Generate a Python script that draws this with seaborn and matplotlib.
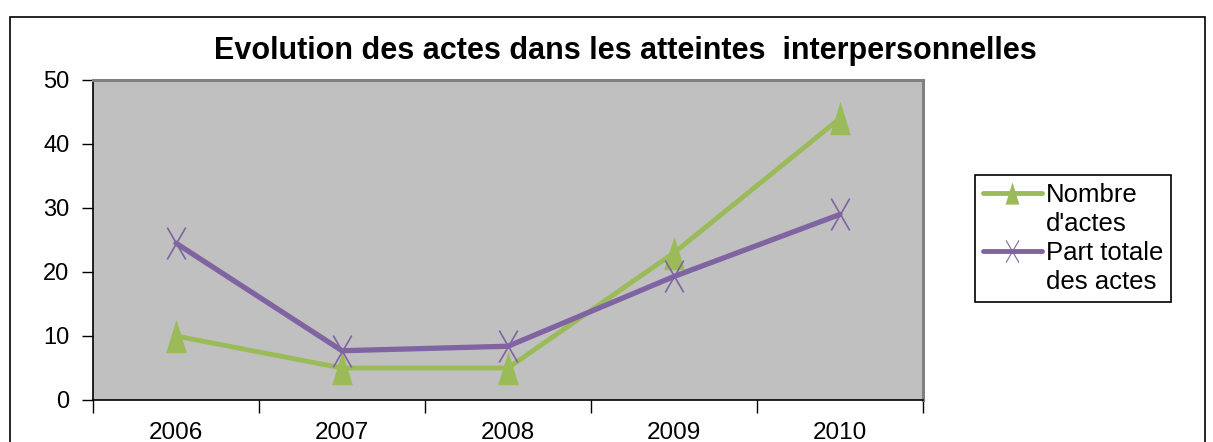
import matplotlib
matplotlib.use("Agg")
import matplotlib.pyplot as plt
import matplotlib.patches as mpatches
from matplotlib.lines import Line2D
from matplotlib.path import Path
import numpy as np
import seaborn as sns

years = ["2006", "2007", "2008", "2009", "2010"]
nombre_actes = [10, 5, 5, 23, 44]
part_totale = [24.5, 7.7, 8.4, 19.3, 29]
series_names = ["Nombre\nd'actes", "Part totale\ndes actes"]

positions = list(range(len(years)))

sns.set_theme(style="white")
plt.rcParams["font.family"] = ["Liberation Sans", "DejaVu Sans"]
plt.rcParams["text.color"] = "black"
plt.rcParams["xtick.color"] = "black"
plt.rcParams["ytick.color"] = "black"

fig = plt.figure(figsize=(12.13, 4.42), dpi=100)
ax = fig.add_axes([93 / 1213, 1 - 400 / 442, (923 - 93) / 1213, 320 / 442])
ax.set_facecolor("#c0c0c0")

green = "#9bbb59"
purple = "#8064a2"

# tall, narrow markers like the original spreadsheet export
tall_triangle = Path([(-0.62, -1), (0.62, -1), (0, 1), (-0.62, -1)],
                     [Path.MOVETO, Path.LINETO, Path.LINETO, Path.CLOSEPOLY])
tall_cross = Path([(-0.58, -1), (0.58, 1), (-0.58, 1), (0.58, -1)],
                  [Path.MOVETO, Path.LINETO, Path.MOVETO, Path.LINETO])

# one call per series (filled and line markers can't be mixed in one call)
sns.lineplot(x=positions, y=nombre_actes, color=green, marker=tall_triangle,
             linewidth=3.5, markersize=24, markeredgewidth=0,
             markerfacecolor=green, ax=ax)
sns.lineplot(x=positions, y=part_totale, color=purple, marker=tall_cross,
             linewidth=3.8, markersize=23, markeredgewidth=1.2,
             markeredgecolor=purple, markerfacecolor="none", ax=ax)

ax.set_xlim(-0.5, len(years) - 0.5)
ax.set_ylim(0, 50)
ax.set_xticks(np.arange(-0.5, len(years), 1.0))
ax.set_xticklabels([])
ax.set_xticks(positions, minor=True)
ax.set_xticklabels(years, minor=True, fontsize=17.5)
ax.tick_params(axis="x", which="major", direction="out", length=9, width=1, color="black", bottom=True)
ax.tick_params(axis="x", which="minor", length=0, pad=16)
ax.set_yticks(range(0, 51, 10))
ax.tick_params(axis="y", direction="out", length=8, width=1, color="black", left=True, labelsize=17, pad=9)
ax.set_xlabel("")
ax.set_ylabel("")

for side in ["left", "bottom"]:
    ax.spines[side].set_color("black")
    ax.spines[side].set_linewidth(1.2)
for side in ["top", "right"]:
    ax.spines[side].set_visible(True)
    ax.spines[side].set_color("#808080")
    ax.spines[side].set_linewidth(2.2)

ax.set_title("Evolution des actes dans les atteintes  interpersonnelles",
             fontsize=22, fontweight="bold", pad=15, x=(625 - 93) / 830)

# legend: marker handle beside the first line of each label, as in the original
legend_handles = []
legend_labels = []
for name, col, mk, ms, mew in [(series_names[0], green, tall_triangle, 16, 0),
                                (series_names[1], purple, tall_cross, 16, 0.8)]:
    first, second = name.split("\n")
    legend_handles.append(Line2D([], [], color=col, linewidth=3.5, marker=mk,
                                 markersize=ms, markeredgewidth=mew,
                                 markerfacecolor=col, markeredgecolor=col))
    legend_labels.append(first)
    legend_handles.append(Line2D([], [], color="none"))
    legend_labels.append(second)

leg = fig.legend(legend_handles, legend_labels, loc="upper left",
                 bbox_to_anchor=(975 / 1213, 1 - 175 / 442),
                 frameon=True, fancybox=False, framealpha=1,
                 edgecolor="black", fontsize=18.5, handlelength=2.3,
                 handletextpad=0.15, borderpad=0.3, labelspacing=0.2,
                 borderaxespad=0)
leg.get_frame().set_linewidth(1.2)

fig.patches.append(mpatches.Rectangle((10 / 1213, -0.05), 1195 / 1213, 1.05 - 17 / 442,
                                      transform=fig.transFigure, fill=False,
                                      edgecolor="black", linewidth=1.2))

fig.savefig("out.png", dpi=100)
